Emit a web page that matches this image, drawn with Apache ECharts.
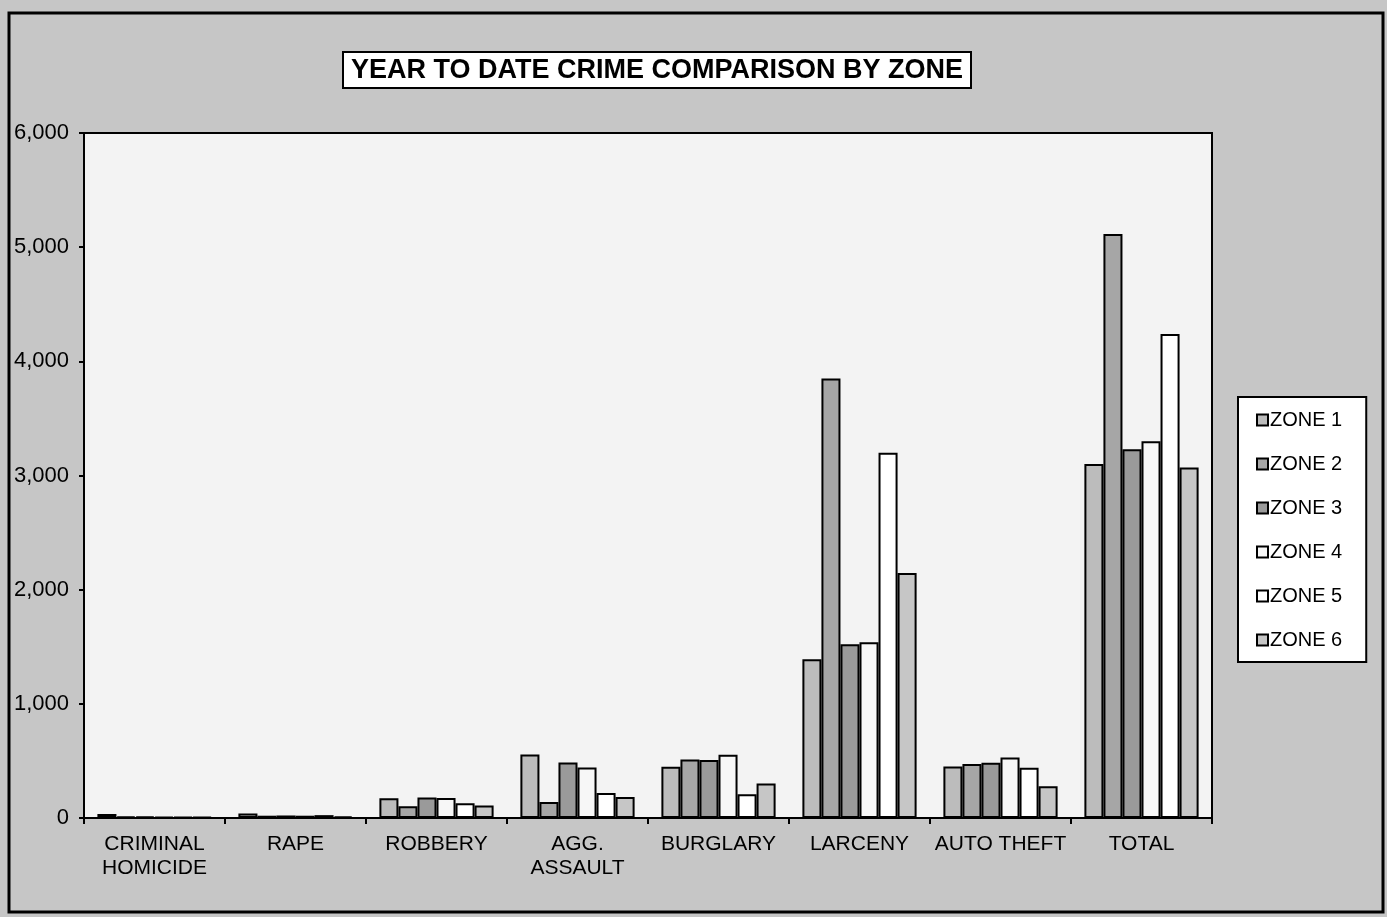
<!DOCTYPE html>
<html><head><meta charset="utf-8">
<script src="https://cdn.jsdelivr.net/npm/echarts@6/dist/echarts.min.js"></script>
<style>html,body{margin:0;padding:0;background:#c6c6c6}#c{width:1387px;height:917px}</style>
</head><body><div id="c"></div>
<script>
const categories = ['CRIMINAL\nHOMICIDE','RAPE','ROBBERY','AGG.\nASSAULT','BURGLARY','LARCENY','AUTO THEFT','TOTAL'];
const zoneNames = ['ZONE 1','ZONE 2','ZONE 3','ZONE 4','ZONE 5','ZONE 6'];
const zone1 = [35, 40, 174, 556, 449, 1390, 452, 3100];
const zone2 = [12, 20, 104, 141, 513, 3849, 472, 5115];
const zone3 = [12, 22, 180, 486, 507, 1522, 484, 3230];
const zone4 = [10, 20, 176, 442, 554, 1540, 531, 3300];
const zone5 = [8, 25, 130, 220, 209, 3200, 440, 4240];
const zone6 = [8, 15, 110, 185, 303, 2147, 279, 3070];
const yTicks = [0, 1000, 2000, 3000, 4000, 5000, 6000];
const zoneData = [zone1, zone2, zone3, zone4, zone5, zone6];
const fills = ['#bcbcbc', '#a6a6a6', '#9a9a9a', '#f7f7f7', '#ffffff', '#c6c6c6'];
const font = 'Liberation Sans, Arial, sans-serif';

const chart = echarts.init(document.getElementById('c'));
chart.setOption({
  backgroundColor: '#c6c6c6',
  animation: false,
  textStyle: {fontFamily: font},
  title: {
    text: 'YEAR TO DATE CRIME COMPARISON BY ZONE',
    left: 343, top: 52,
    padding: [5, 8, 4, 8],
    backgroundColor: '#ffffff',
    borderColor: '#000', borderWidth: 2,
    textStyle: {fontSize: 27, fontWeight: 'bold', color: '#000', fontFamily: font}
  },
  legend: {
    orient: 'vertical',
    left: 1238, top: 397,
    padding: [13, 24, 12, 18],
    itemGap: 24,
    itemWidth: 11, itemHeight: 11,
    backgroundColor: '#ffffff',
    borderColor: '#000', borderWidth: 2,
    textStyle: {fontSize: 20, color: '#000', fontFamily: font, padding: [0,0,0,-3]},
    data: zoneNames.map(n => ({name: n, icon: 'rect'}))
  },
  grid: {left: 84, right: 175, top: 133, bottom: 99, show: true, backgroundColor: '#f3f3f3', borderColor: '#000', borderWidth: 2},
  xAxis: {
    type: 'category', data: categories,
    axisLine: {lineStyle: {color: '#000', width: 2}},
    axisTick: {show: true, length: 6, lineStyle: {color: '#000', width: 2}},
    axisLabel: {interval: 0, fontSize: 21, color: '#000', margin: 14, lineHeight: 24, fontFamily: font}
  },
  yAxis: {
    type: 'value', min: yTicks[0], max: yTicks[yTicks.length-1], interval: 1000,
    splitLine: {show: false},
    axisLine: {show: true, lineStyle: {color: '#000', width: 2}},
    axisTick: {show: true, length: 5, lineStyle: {color: '#000', width: 2}},
    axisLabel: {fontSize: 22, color: '#000', margin: 15, fontFamily: font,
      formatter: v => v.toLocaleString('en-US')}
  },
  series: zoneNames.map((n, i) => ({
    name: n, type: 'bar', data: zoneData[i],
    barGap: '0%', barCategoryGap: '19%',
    itemStyle: {color: fills[i], borderColor: '#000', borderWidth: 2}
  })),
  graphic: [{
    type: 'rect', shape: {x: 9, y: 13, width: 1374, height: 899},
    style: {fill: 'none', stroke: '#000', lineWidth: 3}, silent: true
  }]
});
</script></body></html>
